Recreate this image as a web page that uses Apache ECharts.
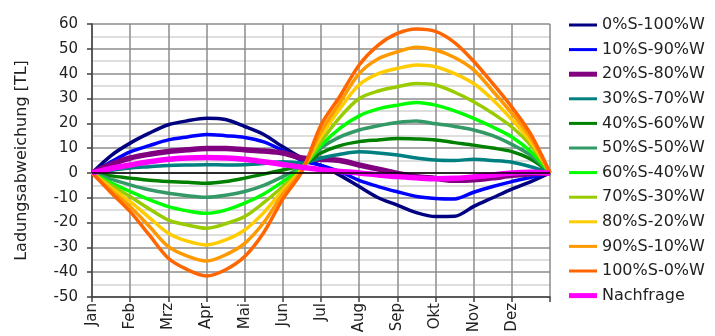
<!DOCTYPE html>
<html><head><meta charset="utf-8">
<script src="https://cdn.jsdelivr.net/npm/echarts@6/dist/echarts.min.js"></script>
<style>html,body{margin:0;padding:0;background:#fff}#c{width:715px;height:336px}</style>
</head><body><div id="c"></div><script>
const months = [0,0.5,1,1.5,2,2.5,3,3.5,4,4.5,5,5.5,6,6.5,7,7.5,8,8.5,9,9.5,10,10.5,11,11.5,12];
const monthLabels = ['Jan','Feb','Mrz','Apr','Mai','Jun','Jul','Aug','Sep','Okt','Nov','Dez'];
const seriesNames = ['0%S-100%W','10%S-90%W','20%S-80%W','30%S-70%W','40%S-60%W','50%S-50%W','60%S-40%W','70%S-30%W','80%S-20%W','90%S-10%W','100%S-0%W','Nachfrage'];

const s0  = [0,7,12,16,19.4,21,22,21.5,18.7,15.5,10.5,6,3,-1,-5.5,-10,-13,-16,-17.6,-17.5,-13.5,-10,-6.5,-3.5,0];
const s10 = [0,4.5,8.5,11,13.3,14.5,15.5,15,14.3,12.5,9,5,3,0.5,-3,-5.5,-7.6,-9.5,-10.3,-10.5,-7.8,-5.5,-3.5,-1.8,0];
const s20 = [0,3.5,6,7.5,8.6,9.3,9.8,9.8,9.3,8.8,8,6,5.5,5,3.2,1.5,-0.2,-1.5,-2.2,-3,-2.8,-2,-1,-0.3,0];
const s30 = [0,1,2,2.5,3,3.2,3.3,3.2,3.3,3.8,4.5,4,6,7.5,8.5,8,7.2,6,5.2,5,5.5,5,4.3,2.5,0];
const s40 = [0,-1.2,-2.1,-3,-3.5,-3.8,-4.2,-3.5,-2.1,-0.5,1.2,3,8,11,12.6,13.3,13.9,13.7,13.3,12.2,11.2,10,8.6,5.5,0];
const s50 = [0,-2.5,-4.8,-6.8,-8.2,-9.2,-9.8,-9,-7.5,-5,-1.5,2.5,10,14.5,17.3,19,20.3,20.9,19.8,18.7,17.3,15,11.5,7,0];
const s60 = [0,-4,-7.5,-10.8,-13.6,-15.3,-16.3,-15,-12.2,-8.5,-3.5,2,11,18,23,25.8,27.3,28.4,27.3,25,22,18.5,14.5,8.5,0];
const s70 = [0,-5,-9.5,-14.5,-19,-21,-22.3,-20.5,-17.6,-12,-5.5,1.5,12.6,22.5,30,33,34.7,36,35.4,32.5,28.7,24,18.5,11,0];
const s80 = [0,-6,-11.6,-18,-24.3,-27.5,-29,-27,-23,-16,-7,1.5,14.6,26,35.5,40,42.1,43.5,42.8,40,36,29.5,21.5,12.5,0];
const s90 = [0,-7,-13.6,-21.5,-29.7,-33.5,-35.5,-33,-28.4,-20,-8.5,1,16.7,28.5,40,46,48.8,50.6,49.5,46.5,41.5,33,24,14,0];
const s100 = [0,-8,-15.6,-25,-34.4,-39,-41.5,-39,-33.7,-24,-10.5,0.5,19.3,31,43.5,51.5,56.2,58,57,52.5,45,36,26.5,15.5,0];
const demand = [0,1.8,3.2,4.5,5.5,6,6.2,6,5.5,4.5,3.4,2.3,1.3,0.6,0,-0.8,-1.5,-2,-2.4,-2.2,-1.6,-0.8,0,0.3,0];

const allValues = [s0,s10,s20,s30,s40,s50,s60,s70,s80,s90,s100,demand];
const colors = ['#000080','#0000ff','#800080','#008080','#008000','#339966','#00ff00','#99cc00','#ffcc00','#ff9900','#ff6600','#ff00ff'];
const widths = [3.5,3.5,5.5,3.5,3.5,3.5,3.5,3.5,3.5,3.5,3.5,5.5];

const FONT = 'DejaVu Sans';
const series = allValues.map((vals, i) => {
  const s = {
    name: seriesNames[i], type: 'line', symbol: 'none', smooth: 0.3,
    data: months.map((m, j) => [m, vals[j]]),
    lineStyle: {color: colors[i], width: widths[i]},
    itemStyle: {color: colors[i]},
    animation: false
  };
  if (i === 0) {
    s.markLine = {silent: true, symbol: ['none','none'], label: {show: false},
      lineStyle: {color: '#000', type: 'solid', width: 1.5},
      data: [{yAxis: 0}], animation: false};
  }
  return s;
});

const legendData = seriesNames.map((n, i) => ({
  name: n,
  icon: widths[i] > 4 ? 'path://M0,0h28v5h-28z' : 'path://M0,0h28v3h-28z',
  itemStyle: {color: colors[i], borderWidth: 0}
}));

const chart = echarts.init(document.getElementById('c'));
chart.setOption({
  animation: false,
  grid: {left: 92, right: 165, top: 24, bottom: 39},
  xAxis: {
    type: 'value', min: 0, max: 12, interval: 1,
    axisLine: {show: true, onZero: false, lineStyle: {color: '#404040', width: 1.5}},
    axisTick: {show: true, length: 5, lineStyle: {color: '#404040', width: 1.5}},
    axisLabel: {rotate: 90, margin: 6, fontFamily: FONT, fontSize: 15, color: '#222',
      formatter: v => monthLabels[v] !== undefined ? monthLabels[v] : ''},
    splitLine: {show: true, lineStyle: {color: '#8c8c8c', width: 1.5}}
  },
  yAxis: {
    type: 'value', min: -50, max: 60, interval: 10,
    name: 'Ladungsabweichung [TL]', nameLocation: 'middle', nameGap: 62, nameRotate: 90,
    nameTextStyle: {fontFamily: FONT, fontSize: 16, color: '#222'},
    axisLine: {show: true, lineStyle: {color: '#404040', width: 1.5}},
    axisTick: {show: true, length: 5, lineStyle: {color: '#404040', width: 1.5}},
    axisLabel: {margin: 14, fontFamily: FONT, fontSize: 15, color: '#222'},
    splitLine: {show: true, lineStyle: {color: '#8c8c8c', width: 1.5}},
    minorTick: {show: false, splitNumber: 2},
    minorSplitLine: {show: true, lineStyle: {color: '#d4d4d4', width: 1.5}}
  },
  legend: {
    orient: 'vertical', left: 569, top: 17, padding: 0,
    itemWidth: 28, itemHeight: 14, itemGap: 8.6,
    textStyle: {fontFamily: FONT, fontSize: 16, color: '#222', lineHeight: 16},
    data: legendData
  },
  series: series
});
</script></body></html>
